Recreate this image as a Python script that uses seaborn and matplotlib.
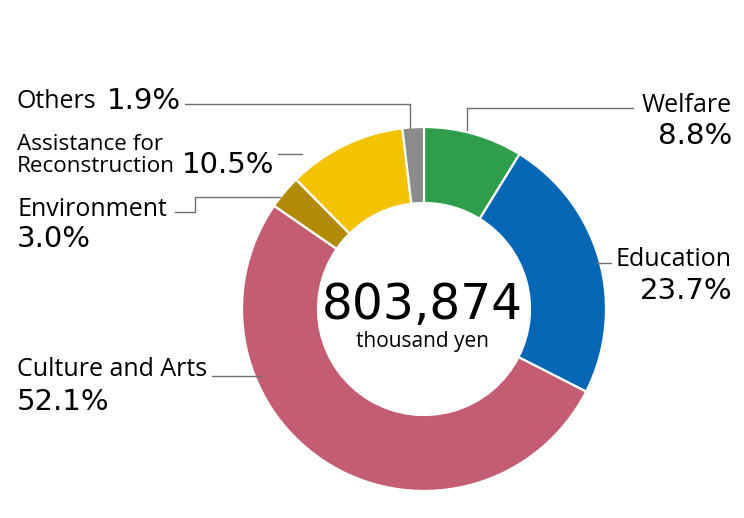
import matplotlib
matplotlib.use("Agg")
import matplotlib.pyplot as plt
import seaborn as sns

categories = ["Welfare", "Education", "Culture and Arts", "Environment",
              "Assistance for\nReconstruction", "Others"]
shares = [8.8, 23.7, 52.1, 3.0, 10.5, 1.9]
pct_labels = ["8.8%", "23.7%", "52.1%", "3.0%", "10.5%", "1.9%"]
colors = ["#2e9e4a", "#0467b6", "#c45c72", "#b38a05", "#f3c300", "#8b8b8b"]
total_label = "803,874"
unit_label = "thousand yen"

sns.set_theme(style="white")
LAB = ["Open Sans", "DejaVu Sans"]
NUM = ["DejaVu Sans"]
plt.rcParams["text.color"] = "black"

W, H = 744, 518
fig = plt.figure(figsize=(W / 100, H / 100), dpi=100)
ax = fig.add_axes([0, 0, 1, 1])

def Y(y):
    return H - y

cx, cy, R = 424, 309, 182
ax.pie(shares, colors=colors, startangle=90, counterclock=False,
       center=(cx, Y(cy)), radius=R, frame=True,
       wedgeprops=dict(width=76, edgecolor="white", linewidth=1.6))
ax.set_xlim(0, W)
ax.set_ylim(0, H)
ax.set_aspect("auto")
ax.set_axis_off()

# center text
ax.text(cx - 2, Y(319), total_label, ha="center", va="baseline",
        fontsize=35, family=NUM, color="black")
ax.text(cx - 2, Y(331), unit_label, ha="center", va="top",
        fontsize=15, family=LAB, color="black")

lc = "#6e6e6e"
lw = 1.0
# leader lines
ax.plot([185, 410, 410], [Y(104), Y(104), Y(128)], color=lc, lw=lw)
ax.plot([467, 467, 633], [Y(130), Y(108), Y(108)], color=lc, lw=lw)
ax.plot([596, 611], [Y(263), Y(263)], color=lc, lw=lw)
ax.plot([212, 262], [Y(376), Y(376)], color=lc, lw=lw)
ax.plot([175, 195, 195, 280], [Y(212), Y(212), Y(197), Y(197)], color=lc, lw=lw)
ax.plot([278, 302], [Y(154), Y(154)], color=lc, lw=lw)

fs_lab = 18
fs_small = 16.2
fs_pct = 21
# left labels
ax.text(17, Y(101), "Others", ha="left", va="center", fontsize=fs_lab, family=LAB)
ax.text(107, Y(101), pct_labels[5], ha="left", va="center", fontsize=fs_pct, family=NUM)
ax.text(17, Y(144), "Assistance for", ha="left", va="center", fontsize=fs_small, family=LAB)
ax.text(17, Y(166), "Reconstruction", ha="left", va="center", fontsize=fs_small, family=LAB)
ax.text(182, Y(165), pct_labels[4], ha="left", va="center", fontsize=fs_pct, family=NUM)
ax.text(17, Y(209), "Environment", ha="left", va="center", fontsize=fs_lab, family=LAB)
ax.text(17, Y(239), pct_labels[3], ha="left", va="center", fontsize=fs_pct, family=NUM)
ax.text(17, Y(370), "Culture and Arts", ha="left", va="center", fontsize=fs_lab, family=LAB)
ax.text(17, Y(402), pct_labels[2], ha="left", va="center", fontsize=fs_pct, family=NUM)
# right labels
ax.text(732, Y(106), "Welfare", ha="right", va="center", fontsize=fs_lab, family=LAB)
ax.text(732, Y(136), pct_labels[0], ha="right", va="center", fontsize=fs_pct, family=NUM)
ax.text(732, Y(260), "Education", ha="right", va="center", fontsize=fs_lab, family=LAB)
ax.text(732, Y(291), pct_labels[1], ha="right", va="center", fontsize=fs_pct, family=NUM)

fig.savefig("out.png", dpi=100, facecolor="white")
